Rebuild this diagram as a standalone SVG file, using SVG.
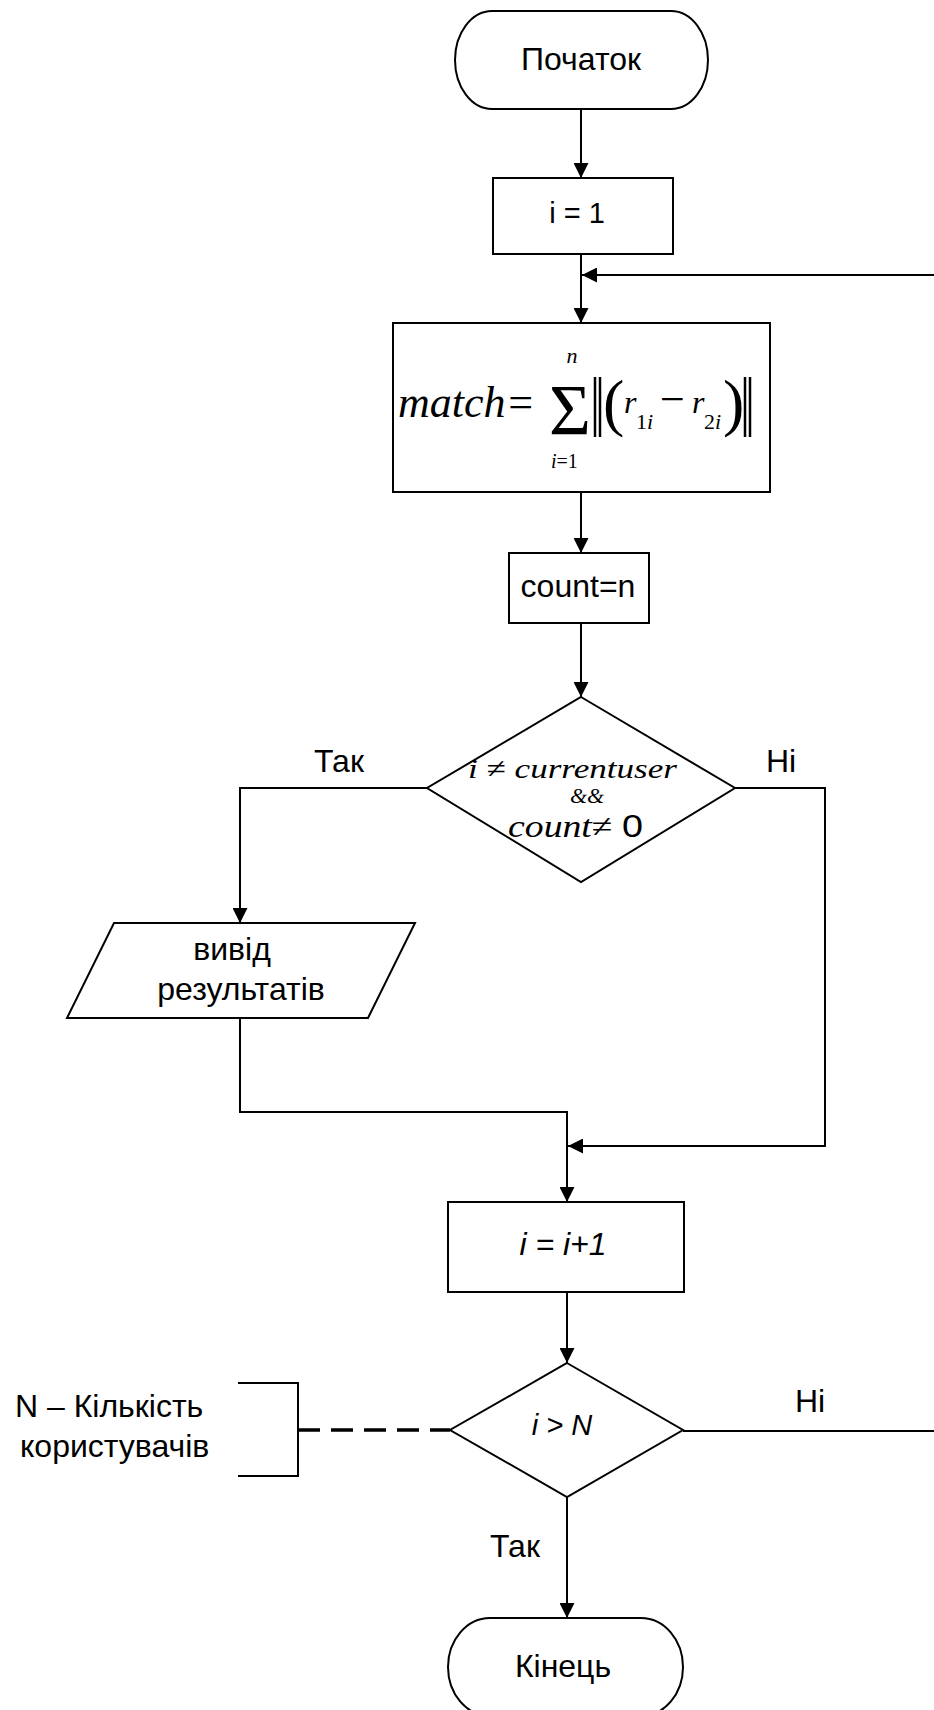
<svg xmlns="http://www.w3.org/2000/svg" width="934" height="1710" viewBox="0 0 934 1710">
<style>
.shape{fill:#fff;stroke:#000;stroke-width:2}
.conn{fill:none;stroke:#000;stroke-width:2}
.dash{fill:none;stroke:#000;stroke-width:3.5;stroke-dasharray:22 11}
.bar{stroke:#000;stroke-width:2.5}
.lbl{font-family:"Liberation Sans",Arial,sans-serif;font-size:32px;fill:#000}
.it{font-family:"Liberation Sans",Arial,sans-serif;font-style:italic;font-size:32px;fill:#000}
.ser{font-family:"Liberation Serif","Times New Roman",serif;fill:#000}
.c{text-anchor:middle}
</style>
<defs>
<marker id="arr" viewBox="0 0 15 15" refX="15" refY="7.5" markerWidth="15" markerHeight="15" markerUnits="userSpaceOnUse" orient="auto">
<path d="M0,0 L15,7.5 L0,15 z" fill="#000"/>
</marker>
</defs>
<rect width="934" height="1710" fill="#fff"/>

<g id="connectors">
<path class="conn" d="M581,109 V178" marker-end="url(#arr)"/>
<path class="conn" d="M581,254 V323" marker-end="url(#arr)"/>
<path class="conn" d="M683,1431 H950 V275 H582" marker-end="url(#arr)"/>
<path class="conn" d="M581,492 V553" marker-end="url(#arr)"/>
<path class="conn" d="M581,623 V697" marker-end="url(#arr)"/>
<path class="conn" d="M427,788 H240 V923" marker-end="url(#arr)"/>
<path class="conn" d="M240,1018 V1112 H567 V1202" marker-end="url(#arr)"/>
<path class="conn" d="M735,788 H825 V1146 H568" marker-end="url(#arr)"/>
<path class="conn" d="M567,1292 V1363" marker-end="url(#arr)"/>
<path class="conn" d="M567,1497 V1618" marker-end="url(#arr)"/>
<path class="dash" d="M298,1430 H450"/>
<text class="lbl" x="314" y="772">Так</text>
<text class="lbl" x="766" y="772">Ні</text>
<text class="lbl" x="795" y="1412">Ні</text>
<text class="lbl" x="490" y="1557">Так</text>
</g>

<g id="start">
<path class="shape" d="M492,11 H671 A37,49 0 0 1 671,109 H492 A37,49 0 0 1 492,11 Z"/>
<text class="lbl c" x="581" y="70">Початок</text>
</g>

<g id="init">
<rect class="shape" x="493" y="178" width="180" height="76"/>
<text class="lbl c" x="577" y="223" style="font-size:29px">i = 1</text>
</g>

<g id="match">
<rect class="shape" x="393" y="323" width="377" height="169"/>
<text class="ser" x="398" y="417" style="font-size:44px;font-style:italic">match=</text>
<text class="ser" x="549" y="434" style="font-size:72px">Σ</text>
<text class="ser c" x="572" y="363" style="font-size:22px;font-style:italic">n</text>
<text class="ser" x="551" y="468" style="font-size:20px"><tspan font-style="italic">i</tspan>=1</text>
<line class="bar" x1="595" y1="377" x2="595" y2="437"/>
<line class="bar" x1="600" y1="377" x2="600" y2="437"/>
<line class="bar" x1="745" y1="377" x2="745" y2="437"/>
<line class="bar" x1="750" y1="377" x2="750" y2="437"/>
<text class="ser" x="603" y="424" style="font-size:64px"><tspan x="603" y="424">(</tspan><tspan x="624" y="413" style="font-size:32px;font-style:italic">r</tspan><tspan x="636" y="429" style="font-size:22px">1</tspan><tspan y="429" style="font-size:22px;font-style:italic">i</tspan><tspan x="660" y="414" style="font-size:44px">−</tspan><tspan x="692" y="413" style="font-size:32px;font-style:italic">r</tspan><tspan x="704" y="429" style="font-size:22px">2</tspan><tspan y="429" style="font-size:22px;font-style:italic">i</tspan><tspan x="723" y="424">)</tspan></text>
</g>

<g id="count">
<rect class="shape" x="509" y="553" width="140" height="70"/>
<text class="lbl c" x="578" y="597">count=n</text>
</g>

<g id="decision1">
<polygon class="shape" points="581,697 735,788 581,882 427,788"/>
<text class="ser" x="468" y="778" style="font-size:28px;font-style:italic" textLength="209" lengthAdjust="spacingAndGlyphs">i ≠ currentuser</text>
<text class="ser c" x="587" y="803" style="font-size:22px;font-style:italic">&amp;&amp;</text>
<text class="ser" x="508" y="837" style="font-size:32px" textLength="135" lengthAdjust="spacingAndGlyphs"><tspan font-style="italic">count</tspan>≠ <tspan font-family="Liberation Sans, Arial, sans-serif">0</tspan></text>
</g>

<g id="output">
<polygon class="shape" points="114,923 415,923 368,1018 67,1018"/>
<text class="lbl c" x="232" y="960">вивід</text>
<text class="lbl c" x="241" y="1000">результатів</text>
</g>

<g id="increment">
<rect class="shape" x="448" y="1202" width="236" height="90"/>
<text class="it c" x="563" y="1255">i = i+1</text>
</g>

<g id="decision2">
<polygon class="shape" points="567,1363 683,1430 567,1497 450,1430"/>
<text class="it c" x="562" y="1435" style="font-size:29px">i &gt; N</text>
</g>

<g id="note">
<path class="conn" d="M238,1383 H298 V1476 H238"/>
<text class="lbl" x="15" y="1417">N – Кількість</text>
<text class="lbl" x="20" y="1457">користувачів</text>
</g>

<g id="end">
<path class="shape" d="M490,1618 H641 A42,49 0 0 1 641,1716 H490 A42,49 0 0 1 490,1618 Z"/>
<text class="lbl c" x="563" y="1677">Кінець</text>
</g>
</svg>
